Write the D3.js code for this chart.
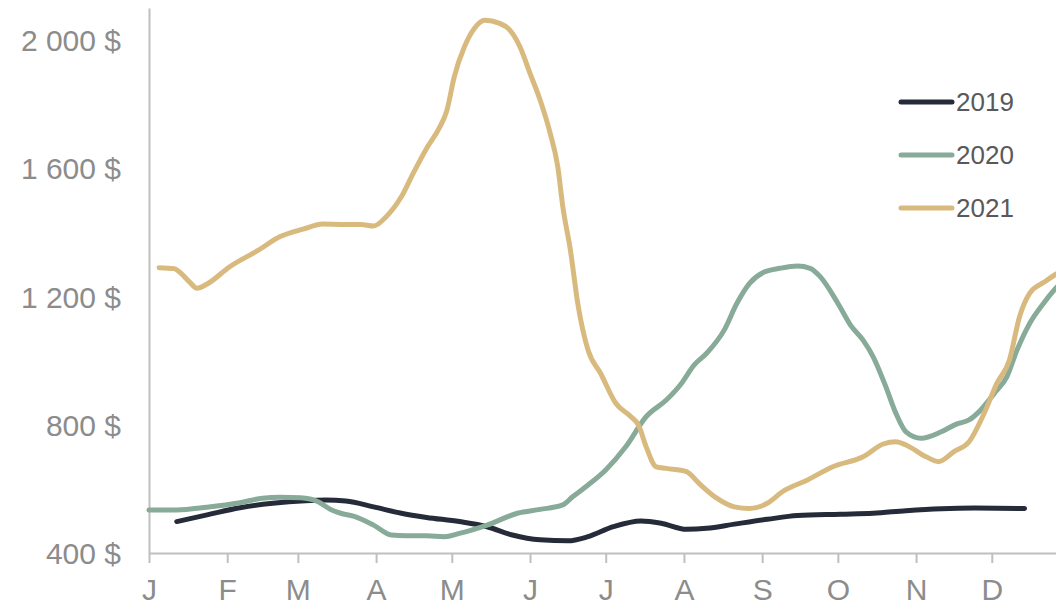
<!DOCTYPE html>
<html>
<head>
<meta charset="utf-8">
<script src="https://cdn.jsdelivr.net/npm/d3@7"></script>
<style>
  html, body { margin: 0; padding: 0; background: #ffffff; }
  svg { display: block; font-family: "Liberation Sans", Arial, sans-serif; }
</style>
</head>
<body>
<svg id="chart" width="1056" height="607"></svg>
<script>
// ---- Data (day of year, value in $) ----
const monthLabels = ["J","F","M","A","M","J","J","A","S","O","N","D"];
const yTicks = [400, 800, 1200, 1600, 2000];
const seriesNames = ["2019", "2020", "2021"];
const seriesColors = ["#262b3a", "#87ab98", "#d8ba7f"];

const days2019 = [11,23,36,49,62,70,78,89,100,110,123,134,144,155,166,174,184,195,203,213,221,232,245,257,274,287,300,314,327,347];
const vals2019 = [498,519,541,555,563,565,562,544,524,511,498,482,456,441,438,451,482,500,493,474,477,490,505,517,521,524,532,538,540,539];

const days2020 = [0,11,23,36,45,52,60,67,72,76,81,89,96,102,110,117,123,134,146,155,164,168,174,181,189,197,205,211,216,221,228,233,238,244,250,257,262,266,273,278,283,287,292,296,300,306,314,320,325,329,335,340,344,349,355,360,365];
const vals2020 = [534,534,543,557,571,574,572,560,536,524,515,487,456,454,454,451,461,487,524,536,550,576,612,659,732,825,877,929,986,1023,1096,1179,1241,1277,1288,1295,1288,1262,1179,1111,1064,1012,919,836,778,758,778,802,815,841,898,950,1033,1116,1184,1231,1265];

const days2021 = [4,10,12,16,19,23,32,43,52,61,69,76,84,89,94,100,105,110,115,118,121,125,129,133,139,143,147,151,155,159,162,164,167,170,174,179,185,191,194,197,201,205,213,218,225,232,238,245,251,261,271,283,291,296,300,308,313,319,325,331,336,341,345,349,355,360,365];
const vals2021 = [1290,1287,1277,1246,1226,1239,1293,1343,1387,1410,1426,1425,1425,1420,1449,1511,1589,1662,1725,1779,1886,1979,2037,2062,2052,2031,1979,1896,1813,1709,1605,1480,1345,1175,1033,960,867,825,799,732,669,664,654,617,571,544,539,555,591,628,669,700,740,747,737,700,685,716,747,836,929,1002,1137,1210,1246,1272,1290];

const seriesDays = [days2019, days2020, days2021];
const seriesVals = [vals2019, vals2020, vals2021];

// ---- Setup ----
const svg = d3.select("#chart");
const refYear = 2019;
const toDate = d => new Date(refYear, 0, 1 + d);

const x = d3.scaleTime()
  .domain([new Date(refYear, 0, 1), new Date(refYear + 1, 0, 1)])
  .range([149, 1070]);
const y = d3.scaleLinear().domain([400, 2100]).range([553, 8]);

const axisColor = "#bfbfbf";
const labelColor = "#8c8c8c";

// X axis
const monthStarts = d3.range(12).map(m => new Date(refYear, m, 1));
const xAxis = svg.append("g")
  .attr("transform", "translate(0,553)")
  .call(d3.axisBottom(x).tickValues(monthStarts).tickSize(10).tickSizeOuter(0)
        .tickFormat((d, i) => monthLabels[i]));
xAxis.select(".domain").attr("stroke", axisColor).attr("stroke-width", 2);
xAxis.selectAll(".tick line").attr("stroke", axisColor).attr("stroke-width", 2);
xAxis.selectAll(".tick text")
  .attr("fill", labelColor).attr("font-size", 30).attr("y", 0).attr("dy", 0)
  .attr("transform", "translate(0,47)")
  .style("font-family", "'Liberation Sans', Arial, sans-serif");

// Y axis
const yAxis = svg.append("g")
  .attr("transform", "translate(149,0)")
  .call(d3.axisLeft(y).tickValues(yTicks).tickSize(0).tickPadding(28)
        .tickFormat(d => d3.format(",")(d).replace(/,/g, " ") + " $"));
yAxis.select(".domain").attr("stroke", axisColor).attr("stroke-width", 2);
yAxis.selectAll(".tick text")
  .attr("fill", labelColor).attr("font-size", 30).attr("dy", "0.35em")
  .style("font-family", "'Liberation Sans', Arial, sans-serif");

// Lines
const line = d3.line()
  .x(d => x(toDate(d[0])))
  .y(d => y(d[1]))
  .curve(d3.curveMonotoneX);

seriesNames.forEach((name, i) => {
  const pts = seriesDays[i].map((d, j) => [d, seriesVals[i][j]]);
  svg.append("path")
    .datum(pts)
    .attr("d", line)
    .attr("fill", "none")
    .attr("stroke", seriesColors[i])
    .attr("stroke-width", 5)
    .attr("stroke-linecap", "round")
    .attr("stroke-linejoin", "round");
});

// Legend
const legend = svg.append("g");
const legendY = d3.scalePoint().domain(seriesNames).range([102, 208]);
seriesNames.forEach((name, i) => {
  const ly = legendY(name);
  legend.append("line")
    .attr("x1", 901).attr("x2", 952).attr("y1", ly).attr("y2", ly)
    .attr("stroke", seriesColors[i]).attr("stroke-width", 5).attr("stroke-linecap", "round");
  legend.append("text")
    .attr("x", 956).attr("y", ly).attr("dy", "0.35em")
    .attr("font-size", 26).attr("fill", "#595959")
    .text(name);
});
</script>
</body>
</html>
